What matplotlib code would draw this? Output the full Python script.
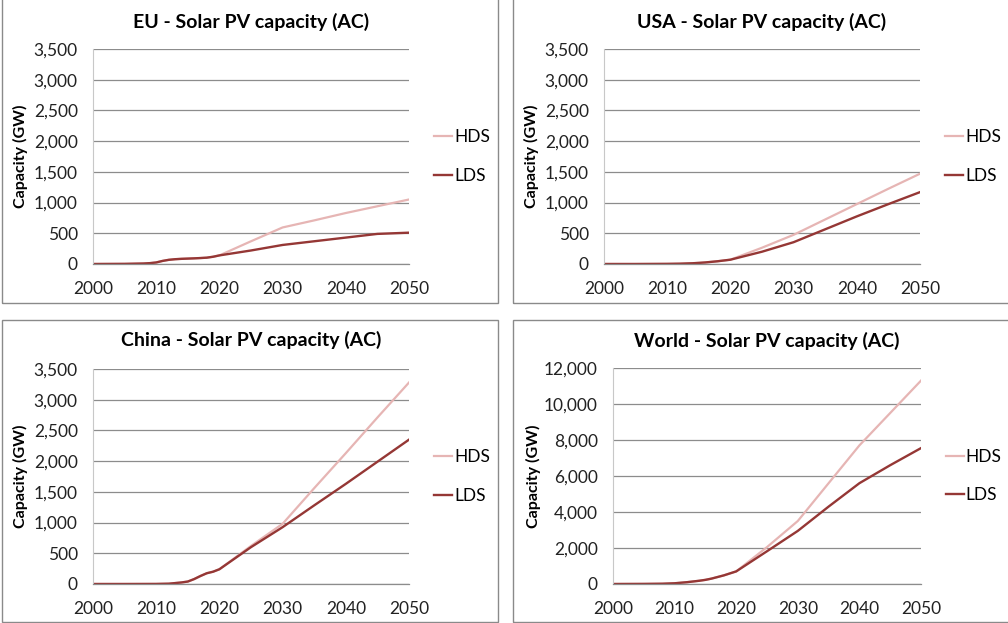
import numpy as np
import matplotlib.pyplot as plt
from matplotlib.patches import Rectangle
from matplotlib.ticker import FuncFormatter

plt.rcParams['font.family'] = ['Lato', 'DejaVu Sans']

# -----------------------------------------------------
# data (GW)
# -----------------------------------------------------
eu_years = [2000, 2005, 2008, 2009, 2010, 2011, 2012, 2013, 2014, 2015, 2016, 2017, 2018, 2019, 2020,
            2025, 2030, 2035, 2040, 2045, 2050]
eu_lds = [0, 2, 8, 14, 25, 50, 68, 78, 84, 88, 92, 97, 103, 118, 140,
          220, 310, 370, 430, 490, 510]
eu_hds = [0, 2, 8, 14, 25, 50, 68, 78, 84, 88, 92, 97, 103, 118, 140,
          370, 595, 710, 830, 940, 1050]

usa_years = [2000, 2005, 2010, 2012, 2014, 2015, 2016, 2018, 2020, 2025, 2030, 2035, 2040, 2045, 2050]
usa_lds = [0, 0, 2, 5, 12, 18, 25, 45, 70, 200, 355, 565, 775, 975, 1170]
usa_hds = [0, 0, 2, 5, 12, 18, 25, 45, 70, 265, 475, 725, 975, 1225, 1470]

cn_years = [2000, 2005, 2010, 2012, 2013, 2014, 2015, 2016, 2017, 2018, 2019, 2020,
            2025, 2030, 2035, 2040, 2045, 2050]
cn_lds = [0, 0, 1, 5, 15, 25, 40, 80, 130, 175, 200, 240,
          600, 925, 1280, 1630, 1990, 2350]
cn_hds = [0, 0, 1, 5, 15, 25, 40, 80, 130, 175, 200, 240,
          620, 980, 1560, 2130, 2710, 3280]

world_years = [2000, 2005, 2008, 2010, 2012, 2014, 2015, 2016, 2018, 2020,
               2025, 2030, 2035, 2040, 2045, 2050]
world_lds = [0, 5, 15, 40, 100, 180, 230, 300, 480, 700,
             1820, 2950, 4300, 5600, 6600, 7550]
world_hds = [0, 5, 15, 40, 100, 180, 230, 300, 480, 700,
             2050, 3500, 5600, 7700, 9500, 11300]

panels = [
    ("EU - Solar PV capacity (AC)", eu_years, eu_hds, eu_lds, 3500, 500),
    ("USA - Solar PV capacity (AC)", usa_years, usa_hds, usa_lds, 3500, 500),
    ("China - Solar PV capacity (AC)", cn_years, cn_hds, cn_lds, 3500, 500),
    ("World - Solar PV capacity (AC)", world_years, world_hds, world_lds, 12000, 2000),
]

# -----------------------------------------------------
# layout in pixels (image is 1008 x 623)
# -----------------------------------------------------
W, H = 1008, 623
axes_px = [(93, 49, 409, 264), (604, 49, 920, 264),
           (93, 369, 409, 584), (613, 368, 921, 584)]
boxes_px = [(2, -2, 498, 303), (513, -2, 1012, 303),
            (2, 320, 498, 622), (513, 320, 1012, 622)]
title_y = [22, 22, 340, 341]
ylabel_x = [20, 531, 20, 533]

HDS_COLOR = "#e6b5b4"
LDS_COLOR = "#953735"
GRID_COLOR = "#8c8c8c"

fig = plt.figure(figsize=(W / 100, H / 100), dpi=100)

for i, (title, yrs, hds, lds, ymax, ystep) in enumerate(panels):
    bx0, by0, bx1, by1 = boxes_px[i]
    fig.patches.append(Rectangle((bx0 / W, 1 - by1 / H), (bx1 - bx0) / W, (by1 - by0) / H,
                                 transform=fig.transFigure, fill=False,
                                 edgecolor="#8a8a8a", linewidth=1.0))

    x0, y0, x1, y1 = axes_px[i]
    ax = fig.add_axes([x0 / W, 1 - y1 / H, (x1 - x0) / W, (y1 - y0) / H])

    ax.plot(yrs, hds, color=HDS_COLOR, linewidth=1.6, label="HDS")
    ax.plot(yrs, lds, color=LDS_COLOR, linewidth=1.7, label="LDS")

    ax.set_xlim(2000, 2050)
    ax.set_ylim(0, ymax)
    ax.set_xticks(np.arange(2000, 2051, 10))
    ax.set_yticks(np.arange(0, ymax + 1, ystep))
    ax.yaxis.set_major_formatter(FuncFormatter(lambda v, p: f"{int(v):,}"))
    ax.tick_params(length=0, labelsize=12.5, colors="#222222")
    ax.tick_params(axis="y", pad=11)
    ax.tick_params(axis="x", pad=12)

    ax.grid(axis="y", color=GRID_COLOR, linewidth=0.9)
    ax.set_axisbelow(True)
    for side in ["top", "right"]:
        ax.spines[side].set_visible(False)
    ax.spines["left"].set_color("#c8c8c8")
    ax.spines["bottom"].set_color(GRID_COLOR)
    ax.spines["bottom"].set_linewidth(0.9)

    fig.text((x0 + x1) / 2 / W, 1 - title_y[i] / H, title,
             ha="center", va="center", fontsize=14, fontweight="bold")
    fig.text(ylabel_x[i] / W, 1 - (y0 + y1) / 2 / H, "Capacity (GW)",
             ha="center", va="center", rotation=90, fontsize=11.5, fontweight="bold")

    ax.legend(frameon=False, loc="center left", bbox_to_anchor=(1.03, 0.5),
              handlelength=1.05, handletextpad=0.1, labelspacing=1.3, fontsize=12.5)

plt.savefig("out.png", dpi=100)
